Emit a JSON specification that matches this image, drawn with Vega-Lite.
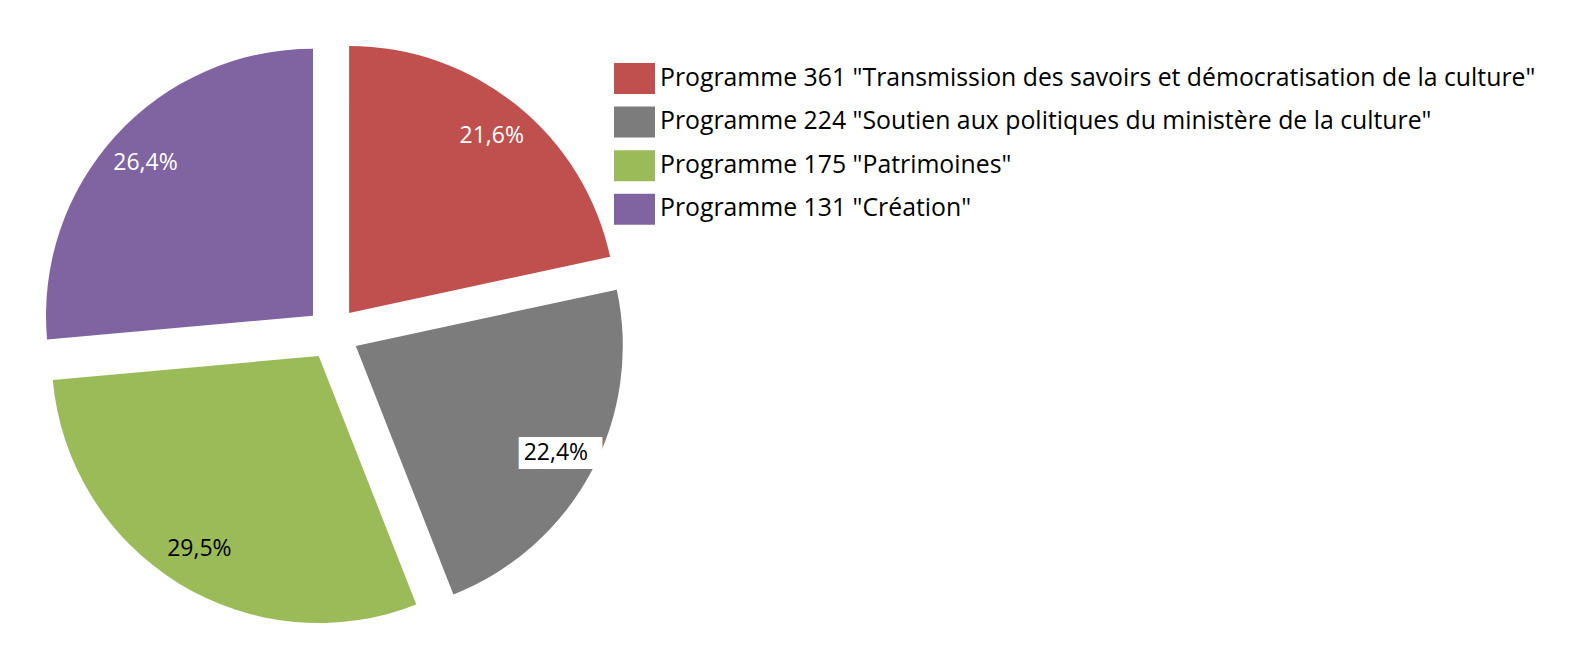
{
  "$schema": "https://vega.github.io/schema/vega-lite/v6.json",
  "width": 665,
  "height": 667,
  "padding": 0,
  "autosize": {"type": "pad"},
  "background": "white",
  "config": {"view": {"stroke": null}, "font": "Open Sans"},
  "data": {
    "values": [
      {"programme": "Programme 361 \"Transmission des savoirs et démocratisation de la culture\"", "part": 21.6, "label": "21,6%"},
      {"programme": "Programme 224 \"Soutien aux politiques du ministère de la culture\"", "part": 22.4, "label": "22,4%"},
      {"programme": "Programme 175 \"Patrimoines\"", "part": 29.5, "label": "29,5%"},
      {"programme": "Programme 131 \"Création\"", "part": 26.4, "label": "26,4%"}
    ]
  },
  "encoding": {
    "theta": {"field": "part", "type": "quantitative", "stack": true, "scale": {"domain": [0, 99.9]}},
    "order": {"field": "programme", "sort": "descending"},
    "color": {
      "field": "programme",
      "type": "nominal",
      "sort": null,
      "scale": {
        "domain": [
          "Programme 361 \"Transmission des savoirs et démocratisation de la culture\"",
          "Programme 224 \"Soutien aux politiques du ministère de la culture\"",
          "Programme 175 \"Patrimoines\"",
          "Programme 131 \"Création\""
        ],
        "range": ["#C0504D", "#7c7c7c", "#9BBB59", "#8064A2"]
      },
      "legend": {
        "title": null,
        "orient": "none",
        "legendX": 614,
        "legendY": 58,
        "padding": 0,
        "symbolType": "M-1,-0.756H1V0.756H-1Z",
        "symbolSize": 1681,
        "symbolStrokeWidth": 0,
        "symbolOpacity": 1,
        "labelFont": "Open Sans",
        "labelFontSize": 24.8,
        "labelColor": "black",
        "labelOffset": 5,
        "labelLimit": 1200,
        "rowPadding": 7.6
      }
    }
  },
  "layer": [
    {
      "mark": {"type": "arc", "outerRadius": 267, "xOffset": 16.6, "yOffset": -20.5},
      "encoding": {"fillOpacity": {"condition": {"test": "datum.part === 21.6", "value": 1}, "value": 0}}
    },
    {
      "mark": {"type": "arc", "outerRadius": 267, "xOffset": 23.3, "yOffset": 12.4},
      "encoding": {"fillOpacity": {"condition": {"test": "datum.part === 22.4", "value": 1}, "value": 0}}
    },
    {
      "mark": {"type": "arc", "outerRadius": 267, "xOffset": -13.8, "yOffset": 22.5},
      "encoding": {"fillOpacity": {"condition": {"test": "datum.part === 29.5", "value": 1}, "value": 0}}
    },
    {
      "mark": {"type": "arc", "outerRadius": 267, "xOffset": -19.5, "yOffset": -17.8},
      "encoding": {"fillOpacity": {"condition": {"test": "datum.part === 26.4", "value": 1}, "value": 0}}
    },
    {
      "mark": {"type": "text", "radius": 227, "font": "DejaVu Sans", "fontSize": 27, "align": "center", "baseline": "middle", "xOffset": 28, "yOffset": 13.5},
      "encoding": {
        "color": {"value": "white"},
        "text": {"condition": {"test": "datum.part === 22.4", "value": "████"}, "value": ""}
      }
    },
    {
      "mark": {"type": "text", "radius": 227, "fontSize": 23, "align": "center", "baseline": "middle", "xOffset": 16.6, "yOffset": -20.5},
      "encoding": {
        "color": {"value": "white"},
        "text": {"condition": {"test": "datum.part === 21.6", "field": "label"}, "value": ""}
      }
    },
    {
      "mark": {"type": "text", "radius": 227, "fontSize": 23, "align": "center", "baseline": "middle", "xOffset": 23.3, "yOffset": 12.4},
      "encoding": {
        "color": {"value": "black"},
        "text": {"condition": {"test": "datum.part === 22.4", "field": "label"}, "value": ""}
      }
    },
    {
      "mark": {"type": "text", "radius": 227, "fontSize": 23, "align": "center", "baseline": "middle", "xOffset": -13.8, "yOffset": 22.5},
      "encoding": {
        "color": {"value": "black"},
        "text": {"condition": {"test": "datum.part === 29.5", "field": "label"}, "value": ""}
      }
    },
    {
      "mark": {"type": "text", "radius": 227, "fontSize": 23, "align": "center", "baseline": "middle", "xOffset": -19.5, "yOffset": -17.8},
      "encoding": {
        "color": {"value": "white"},
        "text": {"condition": {"test": "datum.part === 26.4", "field": "label"}, "value": ""}
      }
    }
  ]
}
